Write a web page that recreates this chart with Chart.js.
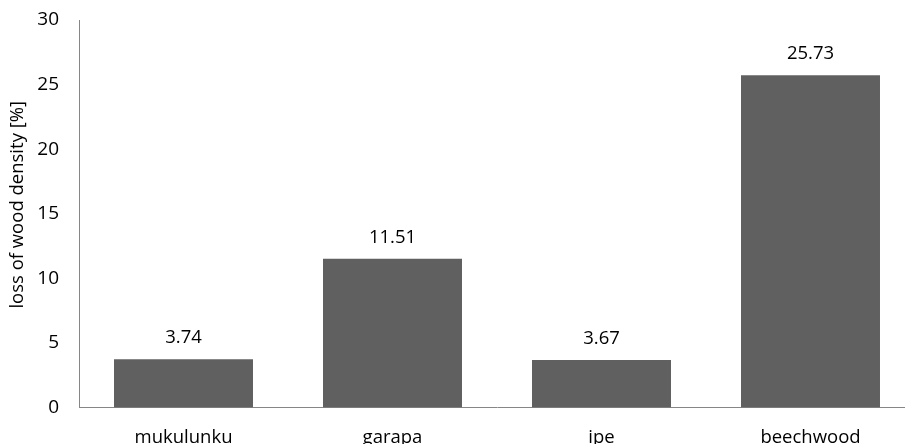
<!DOCTYPE html>
<html>
<head>
<meta charset="utf-8">
<script src="https://cdn.jsdelivr.net/npm/chart.js@4/dist/chart.umd.min.js"></script>
<style>
  html, body { margin: 0; padding: 0; background: #ffffff; overflow: hidden; }
  #wrap { width: 915px; height: 444px; position: relative; }
</style>
</head>
<body>
<div id="wrap"><canvas id="chart"></canvas></div>
<script>
// Wood species and their measured loss of density (%)
const species = ['mukulunku', 'garapa', 'ipe', 'beechwood'];
const densityLoss = [3.74, 11.51, 3.67, 25.73];
const yTicks = [0, 5, 10, 15, 20, 25, 30];
const yTitle = 'loss of wood density [%]';

const FAMILY = '"Open Sans", "Liberation Sans", sans-serif';
const AXIS_GREY = '#868686';

// Prints each bar's value centred above it, plus the rotated y-axis title
const annotations = {
  id: 'annotations',
  afterDatasetsDraw(chart) {
    const ctx = chart.ctx;
    const meta = chart.getDatasetMeta(0);
    ctx.save();
    ctx.font = `18.5px ${FAMILY}`;
    ctx.fillStyle = '#000000';
    ctx.textAlign = 'center';
    ctx.textBaseline = 'middle';
    meta.data.forEach((bar, i) => {
      ctx.fillText(densityLoss[i].toFixed(2), bar.x, bar.y - 21);
    });
    const area = chart.chartArea;
    ctx.translate(18, (area.top + area.bottom) / 2 - 9);
    ctx.rotate(-Math.PI / 2);
    ctx.fillText(yTitle, 0, 0);
    ctx.restore();
  }
};

new Chart(document.getElementById('chart'), {
  type: 'bar',
  data: {
    labels: species,
    datasets: [{
      data: densityLoss,
      backgroundColor: '#606060',
      borderWidth: 0,
      categoryPercentage: 1,
      barPercentage: 0.665
    }]
  },
  options: {
    responsive: true,
    maintainAspectRatio: false,
    animation: false,
    layout: { padding: { top: 20, right: 0, bottom: 0, left: 0 } },
    plugins: {
      legend: { display: false },
      tooltip: { enabled: false }
    },
    scales: {
      x: {
        grid: { display: false, drawTicks: false },
        border: { display: true, color: AXIS_GREY, width: 1 },
        ticks: { color: '#000000', font: { family: FAMILY, size: 18.5 }, padding: 19, maxRotation: 0 },
        afterFit(scale) { scale.height = 36.5; }
      },
      y: {
        min: 0,
        max: 30,
        afterBuildTicks(scale) { scale.ticks = yTicks.map(v => ({ value: v })); },
        grid: { display: false, drawOnChartArea: false, drawTicks: true, tickLength: 7, tickColor: AXIS_GREY },
        border: { display: true, color: AXIS_GREY, width: 1 },
        ticks: { color: '#000000', font: { family: FAMILY, size: 19 }, padding: 13 },
        afterFit(scale) {
          scale.width = 79;
          scale.paddingTop = 0;
          scale.paddingBottom = 0;
        }
      }
    }
  },
  plugins: [annotations]
});
</script>
</body>
</html>
